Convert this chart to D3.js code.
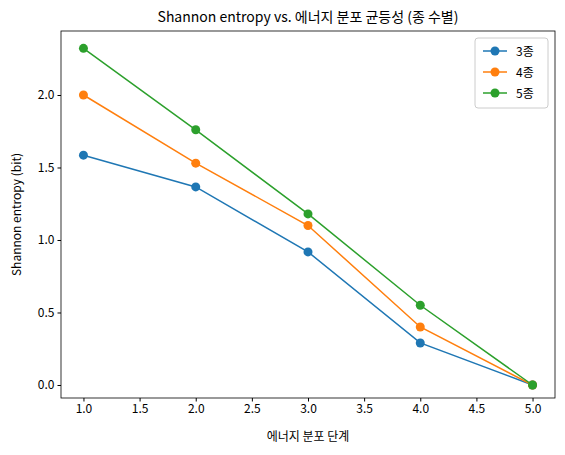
<!DOCTYPE html>
<html><head><meta charset="utf-8">
<script src="https://cdn.jsdelivr.net/npm/d3@7"></script>
<style>body{margin:0;background:#fff}text{font-family:"Noto Sans CJK KR","Noto Sans",sans-serif}</style>
</head><body>
<svg id="c" width="565" height="455"></svg>
<script>
const stages = [1, 2, 3, 4, 5];
const s3 = [1.585, 1.366, 0.918, 0.29, 0];
const s4 = [2.0, 1.53, 1.10, 0.40, 0];
const s5 = [2.322, 1.76, 1.18, 0.55, 0];
const seriesNames = ["3종", "4종", "5종"];
const colors = ["#1f77b4", "#ff7f0e", "#2ca02c"];
const xTicks = [1.0, 1.5, 2.0, 2.5, 3.0, 3.5, 4.0, 4.5, 5.0];
const yTicks = [0.0, 0.5, 1.0, 1.5, 2.0];

const svg = d3.select("#c");
const L = 61, R = 555, T = 31, B = 398;
const x = d3.scaleLinear().domain([0.8, 5.2]).range([L, R]);
const y = d3.scaleLinear().domain([-0.0897, 2.4414]).range([B, T]);

const gx = svg.append("g").attr("transform", `translate(0,${B})`)
  .call(d3.axisBottom(x).tickValues(xTicks).tickFormat(d3.format(".1f")).tickSizeOuter(0).tickSize(3.5).tickPadding(3));
const gy = svg.append("g").attr("transform", `translate(${L},0)`)
  .call(d3.axisLeft(y).tickValues(yTicks).tickFormat(d3.format(".1f")).tickSizeOuter(0).tickSize(3.5).tickPadding(3));
[gx, gy].forEach(g => { g.select(".domain").remove(); g.selectAll("text").attr("font-size", 12).attr("fill", "#000"); g.selectAll("line").attr("stroke", "#000"); });
svg.append("rect").attr("x", L).attr("y", T).attr("width", R - L).attr("height", B - T)
  .attr("fill", "none").attr("stroke", "#000").attr("stroke-width", 0.8);

const all = [s3, s4, s5];
const line = d3.line().x((d, i) => x(stages[i])).y(d => y(d));
all.forEach((s, k) => {
  svg.append("path").datum(s).attr("d", line).attr("fill", "none").attr("stroke", colors[k]).attr("stroke-width", 1.5);
  svg.selectAll(null).data(s).enter().append("circle")
    .attr("cx", (d, i) => x(stages[i])).attr("cy", d => y(d)).attr("r", 4.5).attr("fill", colors[k]);
});

svg.append("text").attr("x", (L + R) / 2).attr("y", 22).attr("text-anchor", "middle").attr("font-size", 14).text("Shannon entropy vs. 에너지 분포 균등성 (종 수별)");
svg.append("text").attr("x", (L + R) / 2).attr("y", 441).attr("text-anchor", "middle").attr("font-size", 12).text("에너지 분포 단계");
svg.append("text").attr("transform", `translate(21,${(T + B) / 2}) rotate(-90)`).attr("text-anchor", "middle").attr("font-size", 12).text("Shannon entropy (bit)");

const lg = svg.append("g");
lg.append("rect").attr("x", 475).attr("y", 38).attr("width", 73).attr("height", 70).attr("rx", 3)
  .attr("fill", "#fff").attr("stroke", "#ccc");
seriesNames.forEach((n, k) => {
  const yy = 51 + k * 21;
  lg.append("line").attr("x1", 483).attr("x2", 507).attr("y1", yy).attr("y2", yy).attr("stroke", colors[k]).attr("stroke-width", 1.5);
  lg.append("circle").attr("cx", 495).attr("cy", yy).attr("r", 4.5).attr("fill", colors[k]);
  lg.append("text").attr("x", 516).attr("y", yy + 4.5).attr("font-size", 12).text(n);
});
</script>
</body></html>
